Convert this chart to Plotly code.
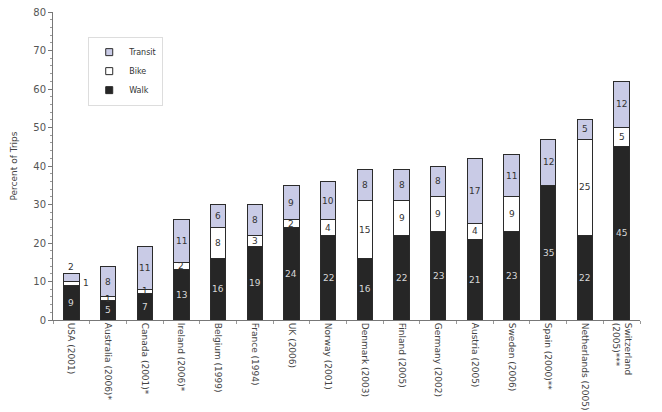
import plotly.graph_objects as go

countries = [
    "USA (2001)", "Australia (2006)*", "Canada (2001)*", "Ireland (2006)*",
    "Belgium (1999)", "France (1994)", "UK (2006)", "Norway (2001)",
    "Denmark (2003)", "Finland (2005)", "Germany (2002)", "Austria (2005)",
    "Sweden (2006)", "Spain (2000)**", "Netherlands (2005)",
    "Switzerland<br>(2005)***",
]
walk = [9, 5, 7, 13, 16, 19, 24, 22, 16, 22, 23, 21, 23, 35, 22, 45]
bike = [1, 1, 1, 2, 8, 3, 2, 4, 15, 9, 9, 4, 9, 0, 25, 5]
transit = [2, 8, 11, 11, 6, 8, 9, 10, 8, 8, 8, 17, 11, 12, 5, 12]

# the first bar is too short for inside labels, so it is labelled outside
outside = {0}

line = dict(color="#2b2b2b", width=1)
font_dark = dict(family="DejaVu Sans", size=9, color="#333333")
font_light = dict(family="DejaVu Sans", size=9, color="#d8d8d8")

series = [
    ("Walk", walk, "#262626", font_light),
    ("Bike", bike, "#ffffff", font_dark),
    ("Transit", transit, "#c9cbe6", font_dark),
]

fig = go.Figure()
base = [0] * len(countries)
for name, vals, color, tfont in series:
    fig.add_bar(x=countries, y=vals, name=name, showlegend=False,
                marker=dict(color=color, line=line), hoverinfo="x+y+name")
    # value labels centred in each segment
    for i, v in enumerate(vals):
        if v > 0 and i not in outside:
            fig.add_annotation(x=countries[i], y=base[i] + v / 2, text=str(v),
                               showarrow=False, font=tfont)
        base[i] += v

# compact square legend keys
for name, vals, color, tfont in reversed(series):
    fig.add_scatter(x=[None], y=[None], mode="markers", name=name,
                    marker=dict(symbol="square", size=7, color=color,
                                line=dict(color="#2b2b2b", width=1)))

# first bar: walk inside, bike to the right, transit above
for i in outside:
    fig.add_annotation(x=countries[i], y=walk[i] / 2, text=str(walk[i]),
                       showarrow=False, font=font_light)
    fig.add_annotation(x=countries[i], y=walk[i] + bike[i] / 2, text=str(bike[i]),
                       showarrow=False, xshift=15, font=font_dark)
    fig.add_annotation(x=countries[i], y=walk[i] + bike[i] + transit[i], text=str(transit[i]),
                       showarrow=False, yshift=7, font=font_dark)

fig.update_layout(
    barmode="stack",
    bargap=0.58,
    width=662, height=412,
    margin=dict(l=53, r=22, t=12, b=92),
    paper_bgcolor="white", plot_bgcolor="white",
    font=dict(family="DejaVu Sans", color="#444444"),
    legend=dict(
        x=0.06, y=0.92, xanchor="left", yanchor="top",
        traceorder="normal",
        bgcolor="white", bordercolor="#dddddd", borderwidth=1,
        font=dict(family="DejaVu Sans", size=8, color="#333333"),
        itemwidth=30, tracegroupgap=0,
    ),
    showlegend=True,
)
fig.update_xaxes(
    tickangle=90, automargin=False,
    tickfont=dict(family="DejaVu Sans", size=9, color="#444444"),
    showline=True, linecolor="#777777", linewidth=1,
    ticks="outside", tickson="boundaries", ticklen=3, tickcolor="#999999",
    showgrid=False,
)
fig.update_yaxes(
    range=[0, 80], dtick=10, automargin=False,
    tickfont=dict(family="DejaVu Sans", size=10, color="#555555"),
    showline=True, linecolor="#777777", linewidth=1,
    ticks="outside", ticklen=4, tickcolor="#777777",
    minor=dict(ticks="outside", ticklen=2, dtick=2, tickcolor="#999999"),
    showgrid=False, zeroline=False,
    title=dict(text="Percent of Trips", font=dict(family="DejaVu Sans", size=9, color="#444444"),
               standoff=14),
)

fig.write_html("out.html")
